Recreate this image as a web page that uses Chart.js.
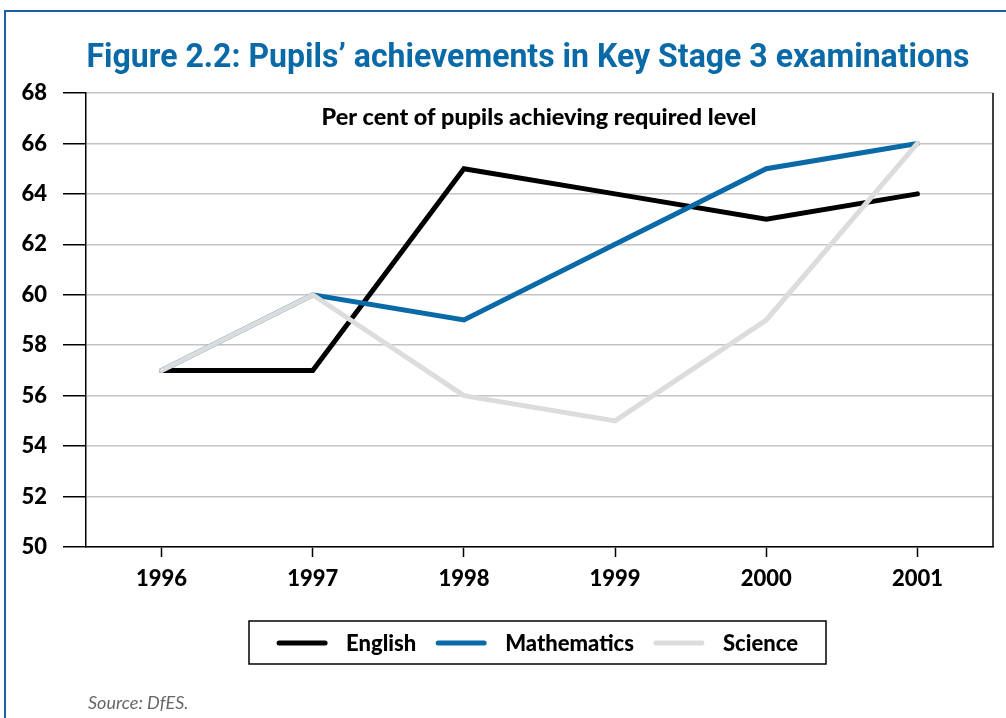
<!DOCTYPE html>
<html>
<head>
<meta charset="utf-8">
<script src="https://cdn.jsdelivr.net/npm/chart.js@4.4.1/dist/chart.umd.min.js"></script>
<style>
  html, body { margin: 0; padding: 0; background: #ffffff; }
  #wrap { position: relative; width: 1006px; height: 718px; }
</style>
</head>
<body>
<div id="wrap"><canvas id="c" width="1006" height="718"></canvas></div>
<script>
const titleText = "Figure 2.2: Pupils\u2019 achievements in Key Stage 3 examinations";
const subtitleText = "Per cent of pupils achieving required level";
const sourceText = "Source: DfES.";
const years = ["1996", "1997", "1998", "1999", "2000", "2001"];
const seriesNames = ["English", "Mathematics", "Science"];
const english = [57, 57, 65, 64, 63, 64];
const mathematics = [57, 60, 59, 62, 65, 66];
const science = [57, 60, 56, 55, 59, 66];
const yTicks = [50, 52, 54, 56, 58, 60, 62, 64, 66, 68];
const seriesColors = ["#000000", "#0a6aa8", "#dcdcdc"];

const FONT = "Lato, 'Open Sans', sans-serif";
const TITLE_FONT = "Roboto, 'Liberation Sans', sans-serif";

function fitText(ctx, text, x, y, targetW) {
  const w = ctx.measureText(text).width;
  const s = targetW / w;
  ctx.save();
  ctx.translate(x, y);
  ctx.scale(s, 1);
  ctx.fillText(text, 0, 0);
  ctx.restore();
}

const decor = {
  id: 'decor',
  afterDraw(chart) {
    const ctx = chart.ctx;
    const area = chart.chartArea;
    ctx.save();
    // outer border (top and left)
    ctx.strokeStyle = '#1f5fa5';
    ctx.lineWidth = 2;
    ctx.beginPath();
    ctx.moveTo(5, 718); ctx.lineTo(5, 11); ctx.lineTo(1006, 11);
    ctx.stroke();

    // title, condensed to target width
    ctx.font = `bold 34px ${TITLE_FONT}`;
    ctx.fillStyle = '#0a6aa8';
    ctx.textAlign = 'center';
    ctx.textBaseline = 'middle';
    fitText(ctx, titleText, 528, 58, 883);

    // subtitle
    ctx.font = `900 22px ${FONT}`;
    ctx.fillStyle = '#000000';
    fitText(ctx, subtitleText, 539, 118, 435);

    // right frame
    ctx.strokeStyle = '#000000';
    ctx.lineWidth = 1.5;
    ctx.beginPath();
    ctx.moveTo(area.right, area.top);
    ctx.lineTo(area.right, area.bottom);
    ctx.stroke();

    // legend
    const ds = chart.data.datasets;
    ctx.font = `900 22px ${FONT}`;
    const lineLen = 50, gapText = 19, gapItem = 20;
    const widths = ds.map(d => ctx.measureText(d.label).width);
    let total = 0;
    ds.forEach((d, i) => { total += lineLen + gapText + widths[i]; if (i < ds.length - 1) total += gapItem; });
    const boxL = 249, boxR = 826, boxT = 621, boxB = 664;
    ctx.strokeStyle = '#000000';
    ctx.lineWidth = 1.5;
    ctx.strokeRect(boxL, boxT, boxR - boxL, boxB - boxT);
    let x = (boxL + boxR) / 2 - total / 2;
    const cy = 643;
    ctx.textAlign = 'left';
    ctx.textBaseline = 'middle';
    ds.forEach((d, i) => {
      ctx.strokeStyle = d.borderColor;
      ctx.lineWidth = 5;
      ctx.lineCap = 'round';
      ctx.beginPath();
      ctx.moveTo(x + 2, cy); ctx.lineTo(x + lineLen - 2, cy);
      ctx.stroke();
      x += lineLen + gapText;
      ctx.fillStyle = '#000000';
      ctx.fillText(d.label, x, cy + 1);
      x += widths[i] + gapItem;
    });

    // source
    ctx.font = `italic 18px ${FONT}`;
    ctx.fillStyle = '#666666';
    ctx.textAlign = 'left';
    ctx.fillText(sourceText, 88, 703);
    ctx.restore();
  }
};

new Chart(document.getElementById('c'), {
  type: 'line',
  data: {
    labels: years,
    datasets: [
      { label: seriesNames[0], data: english, borderColor: seriesColors[0], order: 3 },
      { label: seriesNames[1], data: mathematics, borderColor: seriesColors[1], order: 2 },
      { label: seriesNames[2], data: science, borderColor: seriesColors[2], order: 1 }
    ].map(d => Object.assign(d, { borderWidth: 5, pointRadius: 0, tension: 0, fill: false, borderCapStyle: 'round', borderJoinStyle: 'miter' }))
  },
  options: {
    responsive: false,
    animation: false,
    devicePixelRatio: 1,
    layout: { padding: { top: 93, left: 0, right: 13, bottom: 0 } },
    plugins: { legend: { display: false }, title: { display: false }, tooltip: { enabled: false } },
    scales: {
      x: {
        type: 'category',
        offset: true,
        grid: { display: true, drawOnChartArea: false, drawTicks: true, tickLength: 10, tickColor: '#000000', tickWidth: 1.5, offset: false },
        border: { display: true, color: '#000000', width: 1.5 },
        ticks: { color: '#000000', font: { family: FONT, size: 22, weight: '900' }, padding: 9, maxRotation: 0 },
        afterFit(scale) { scale.height = 171; }
      },
      y: {
        min: 50, max: 68,
        afterBuildTicks(scale) { scale.ticks = yTicks.map(v => ({ value: v })); },
        grid: { color: '#c4c4c4', lineWidth: 1.5, tickLength: 23, tickColor: '#000000', tickWidth: 1.5 },
        border: { display: true, color: '#000000', width: 1.5 },
        ticks: { color: '#000000', font: { family: FONT, size: 22, weight: '900' }, padding: 16 },
        afterFit(scale) { scale.width = 86; }
      }
    }
  },
  plugins: [decor]
});
</script>
</body>
</html>
